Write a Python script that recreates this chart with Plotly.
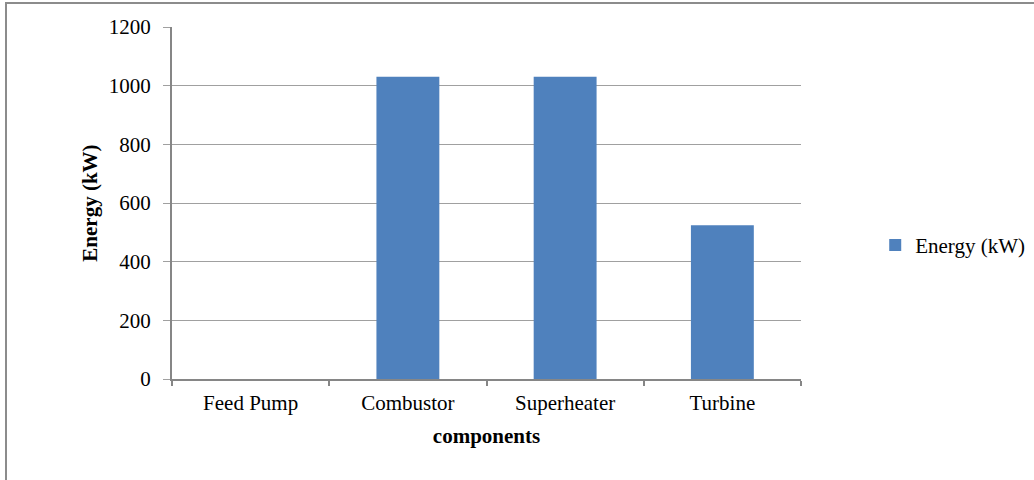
import plotly.graph_objects as go

# Energy by plant component
components = ["Feed Pump", "Combustor", "Superheater", "Turbine"]
energy_kw = [0, 1030, 1030, 524]
y_ticks = [0, 200, 400, 600, 800, 1000, 1200]

FONT = "Liberation Serif, Times New Roman, serif"
BAR = "#4F81BD"

fig = go.Figure()
fig.add_trace(go.Bar(
    x=components,
    y=energy_kw,
    name="Energy (kW)",
    marker=dict(color=BAR, line=dict(width=0)),
    width=0.4,
))

fig.update_layout(
    width=1034,
    height=480,
    margin=dict(l=172, r=233, t=27, b=101, autoexpand=False),
    paper_bgcolor="white",
    plot_bgcolor="white",
    font=dict(family=FONT, size=20, color="black"),
    showlegend=True,
    legend=dict(
        x=1.118, y=0.38, xanchor="left", yanchor="middle",
        font=dict(family=FONT, size=21, color="black"),
        itemwidth=30,
        bgcolor="rgba(0,0,0,0)",
    ),
    bargap=0.6,
)

fig.update_xaxes(
    type="category",
    automargin=False,
    showline=True, linecolor="#868686", linewidth=2,
    ticks="outside", tickson="boundaries", ticklen=5, tickcolor="#868686", tickwidth=2,
    ticklabelstandoff=4,
    showgrid=False,
    tickfont=dict(family=FONT, size=21),
    title=dict(text="<b>components</b>", font=dict(family=FONT, size=21), standoff=14),
)

fig.update_yaxes(
    range=[0, 1200],
    automargin=False,
    tickvals=y_ticks,
    showline=True, linecolor="#868686", linewidth=2,
    ticks="outside", ticklen=7, tickcolor="#A0A0A0", tickwidth=1,
    ticklabelstandoff=8,
    showgrid=True, gridcolor="#A0A0A0", gridwidth=1,
    zeroline=False,
    tickfont=dict(family=FONT, size=21),
    title=dict(text="<b>Energy (kW)</b>", font=dict(family=FONT, size=21), standoff=5),
)

# Outer chart-area frame
fig.add_shape(
    type="rect", xref="paper", yref="paper",
    x0=-0.2639, x1=1.40, y0=-0.35, y1=1.068,
    line=dict(color="#8C8C8C", width=2), fillcolor="rgba(0,0,0,0)", layer="below",
)

fig.write_html("out.html")
